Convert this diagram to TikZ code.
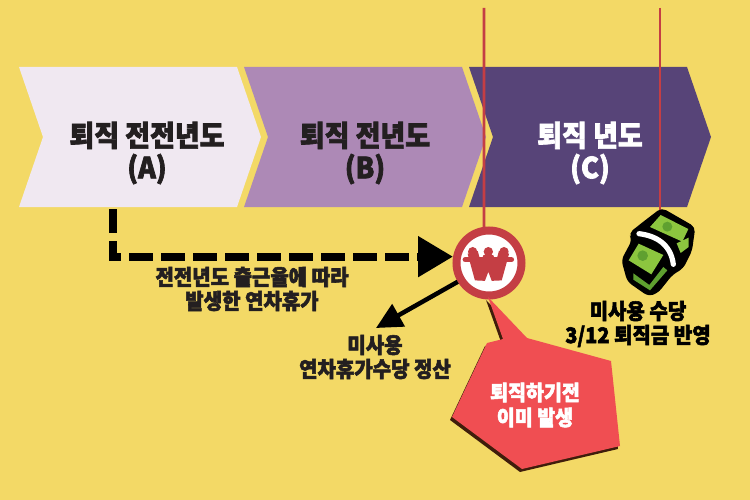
\documentclass[tikz,border=0pt]{standalone}
\usepackage{fontspec}
\setmainfont{Noto Sans CJK KR}[BoldFont={Noto Sans CJK KR Black},BoldFeatures={FakeBold=2.5,FakeStretch=0.93}]
\usetikzlibrary{arrows.meta,positioning}
\definecolor{pagebg}{HTML}{F3D966}
\definecolor{chevA}{HTML}{F0E8F1}
\definecolor{chevB}{HTML}{AD89B6}
\definecolor{chevC}{HTML}{574478}
\definecolor{markred}{HTML}{C43E44}
\definecolor{calloutred}{HTML}{F04E52}
\definecolor{calloutdark}{HTML}{3F1D0B}
\definecolor{inkdark}{HTML}{231F20}
\definecolor{billlight}{HTML}{8CC63F}
\definecolor{billdark}{HTML}{5FA030}
\tikzset{
  titlelabel/.style={font=\fontsize{29}{32}\selectfont\bfseries,align=center,inner sep=0pt},
  notelabel/.style={font=\fontsize{21.5}{24}\selectfont\bfseries,align=center,inner sep=0pt,text=inkdark},
  markline/.style={draw=markred,line width=2.7pt}
}
\begin{document}
\begin{tikzpicture}[x=1pt,y=-1pt]

\fill[pagebg] (0,0) rectangle (750,500);
\useasboundingbox (0,0) rectangle (750,500);

% year chevrons
\def\years{A/0/147/chevA/inkdark/{퇴직 전전년도},B/225/365/chevB/inkdark/{퇴직 전년도},C/450/590/chevC/white/{퇴직 년도}}
\foreach \i / \xs / \xt / \col / \txt / \element in \years {
  \fill[\col,xshift=\xs pt] (19,67) -- (237,67) -- (261,137) -- (237,207) -- (19,207) -- (43,137) -- cycle;
  \node[titlelabel,text=\txt] (year\i) at (\xt,153) {\element\\(\i)};
}

% won mark
\node[circle,draw=markred,fill=white,line width=8pt,minimum size=65pt,inner sep=0pt] (won) at (489,263) {};
\begin{scope}[shift={(450,225)},x=0.3333pt,y=-0.3333pt]
\draw[markred,line width=10.5pt,line join=bevel] (68,82) -- (90,162) -- (115,96) -- (140,162) -- (162,82);
\draw[markred,line width=5.5pt,line cap=round] (46,104) -- (184,104);
\fill[markred] (68,80) circle (14);
\fill[markred] (115,80) circle (14);
\fill[markred] (162,80) circle (14);
\end{scope}

\coordinate (topA) at (484,8);
\coordinate (topB) at (660,8);
\coordinate (moneytop) at (660,210);
\draw[markline] (topA) -- (won.98);
\draw[markline] (topB) -- (moneytop);

% connectors
\coordinate (dashstart) at (113,209);
\coordinate (settletip) at (376,328);
\draw[line width=8pt,dash pattern=on 24pt off 8pt,-{Triangle[length=35pt,width=39pt]}] (dashstart) |- (won.170);
\draw[line width=4.5pt,-{Triangle[length=26pt,width=25pt]}] (won.211) -- (settletip);

\node[notelabel] (arise) at (252,289) {전전년도 출근율에 따라\\발생한 연차휴가};
\node[notelabel] (settle) at (375,357) {미사용\\연차휴가수당 정산};
\node[notelabel,text=black] (reflect) at (638,324) {미사용 수당\\3/12 퇴직금 반영};

% callout
\def\calloutpath{(488,297) -- (527,338) -- (611,361) -- (620,446) -- (522,469) -- (452,417) -- (487,343) -- (503,339) -- cycle}
\fill[calloutdark,shift={(-2,3)}] \calloutpath;
\fill[calloutred] \calloutpath;
\node[font=\fontsize{21}{25}\selectfont\bfseries,text=white,align=center,inner sep=0pt] (before) at (535,405) {퇴직하기전\\이미 발생};

% money stack
\begin{scope}[shift={(620,205)},x=0.3333pt,y=-0.3333pt]
\fill[black,rounded corners=5pt] (125,8) -- (226,66) -- (216,138) -- (190,190) -- (157,210) -- (114,264) -- (85,274) -- (22,230) -- (4,165) -- (36,105) -- (26,85) -- (70,50) -- cycle;
\fill[billlight] (122,30) -- (205,72) -- (187,110) -- (90,66) -- cycle;
\fill[billdark] (142,65) circle (15);
\fill[billlight] (206,98) -- (206,126) -- (182,144) -- (170,115) -- cycle;
\fill[billlight] (56,116) -- (130,150) -- (94,208) -- (26,166) -- cycle;
\fill[billdark] (68,152) circle (16);
\fill[billdark] (40,205) -- (88,240) -- (130,186) -- (142,196) -- (90,256) -- (40,224) -- cycle;
\draw[white,line width=5.2pt,line cap=round] (57,86) .. controls (105,92) and (152,115) .. (160,178);
\end{scope}

\end{tikzpicture}
\end{document}
